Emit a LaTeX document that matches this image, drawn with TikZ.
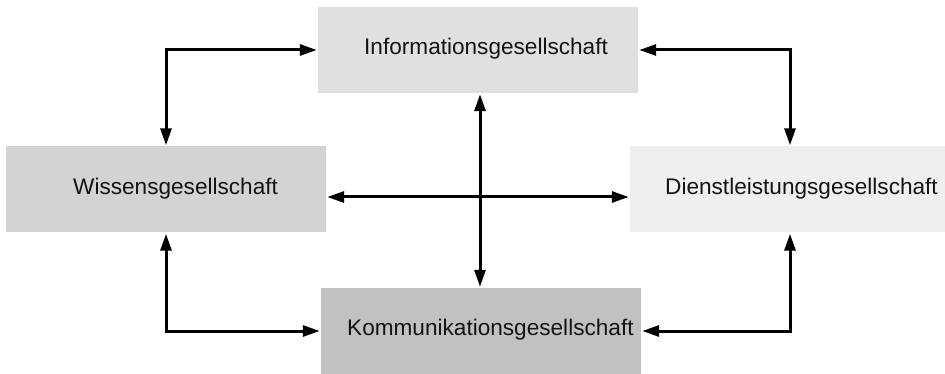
\documentclass[tikz,border=0pt]{standalone}
\usepackage{fontspec}
\setmainfont{Liberation Sans}
\usetikzlibrary{arrows.meta}
\definecolor{infofill}{HTML}{E0E0E0}
\definecolor{wisfill}{HTML}{D3D3D3}
\definecolor{dienstfill}{HTML}{EFEFEF}
\definecolor{kommfill}{HTML}{C1C1C1}
\definecolor{labelcol}{HTML}{141414}
\begin{document}
\begin{tikzpicture}[x=1pt,y=-1pt,
  box/.style={rectangle, inner sep=0pt, draw=none, minimum width=320pt, minimum height=86pt},
  lbl/.style={anchor=base west, inner sep=0pt, text=labelcol, font=\fontsize{22.6}{26}\selectfont},
  link/.style={line width=3pt, {Triangle[length=17pt,width=11pt]}-{Triangle[length=17pt,width=11pt]}, shorten <=1pt, shorten >=1pt}
]
\useasboundingbox (0,0) rectangle (945,374);

% the four societies
\node[box, fill=infofill]   (info)   at (478,50)  {};
\node[box, fill=wisfill]    (wis)    at (166,189.5) {};
\node[box, fill=dienstfill] (dienst) at (790,189.5) {};
\node[box, fill=kommfill]   (komm)   at (481,331) {};

\node[lbl] (info-t)   at (364,55)  {Informationsgesellschaft};
\node[lbl] (wis-t)    at (73,195)  {Wissensgesellschaft};
\node[lbl] (dienst-t) at (665,195) {Dienstleistungsgesellschaft};
\node[lbl] (komm-t)   at (347,335) {Kommunikationsgesellschaft};

% crossing axes in the middle
\coordinate (cx) at (480,197);
\draw[link] (info.south -| cx) -- (komm.north -| cx);
\draw[link] (wis.east |- cx) -- (dienst.west |- cx);

% corner connections
\draw[link] (info.west) -| (wis.north);
\draw[link] (info.east) -| (dienst.north);
\draw[link] (wis.south) |- (komm.west);
\draw[link] (dienst.south) |- (komm.east);
\end{tikzpicture}
\end{document}
